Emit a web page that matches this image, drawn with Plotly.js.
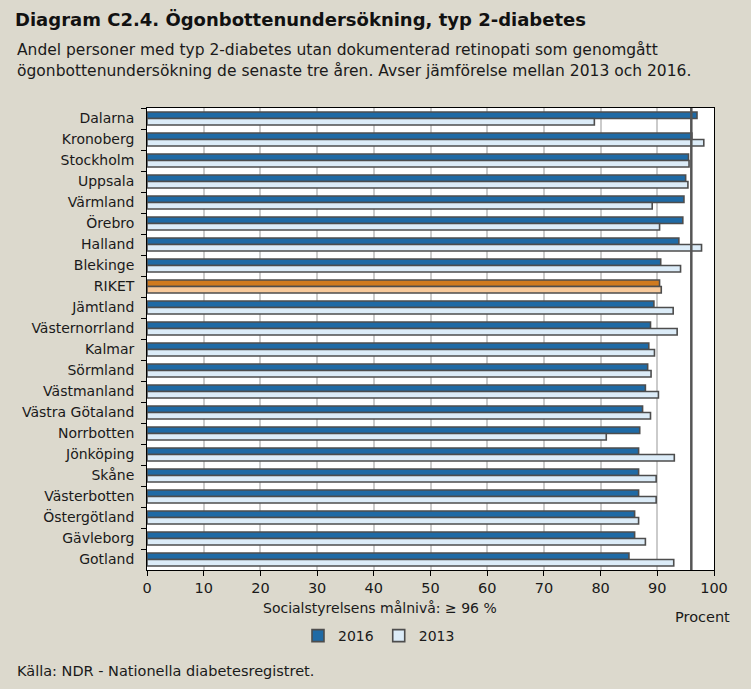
<!DOCTYPE html>
<html>
<head>
<meta charset="utf-8">
<script src="https://cdn.plot.ly/plotly-3.0.1.min.js"></script>
<style>html,body{margin:0;padding:0;background:#dcd9cd;}#chart{width:751px;height:689px;}</style>
</head>
<body>
<div id="chart"></div>
<script>
const categories = ["Dalarna","Kronoberg","Stockholm","Uppsala","Värmland","Örebro","Halland","Blekinge","RIKET","Jämtland","Västernorrland","Kalmar","Sörmland","Västmanland","Västra Götaland","Norrbotten","Jönköping","Skåne","Västerbotten","Östergötland","Gävleborg","Gotland"];
const values2016 = [97.0,96.1,95.5,95.0,94.7,94.5,93.8,90.6,90.4,89.4,88.8,88.5,88.3,87.9,87.4,86.9,86.7,86.7,86.7,86.0,86.0,85.0];
const values2013 = [78.9,98.2,95.6,95.4,89.1,90.4,97.8,94.1,90.7,92.8,93.5,89.5,88.9,90.2,88.8,81.0,93.0,89.8,89.8,86.7,87.9,92.9];
const seriesNames = ["2016","2013"];
const targetLevel = 96;
const xTicks = [0,10,20,30,40,50,60,70,80,90,100];

const W = 751, H = 689;
const L = 147, R = 714, T = 108, B = 570;
const px = x => (x - L) / (R - L);
const py = y => (B - y) / (B - T);
const FONT = "DejaVu Sans, sans-serif";
const txt = "#1a1a1a";

const c2016 = categories.map(c => c === "RIKET" ? "#d07a1e" : "#1f6aa5");
const c2013 = categories.map(c => c === "RIKET" ? "#f7c99b" : "#dcecf8");
const outline = "#4d4d4d";

const traces = [
  {type:"bar", orientation:"h", name:seriesNames[0], y:categories, x:values2016,
   marker:{color:c2016, line:{color:outline, width:1.6}}, hoverinfo:"x+y"},
  {type:"bar", orientation:"h", name:seriesNames[1], y:categories, x:values2013,
   marker:{color:c2013, line:{color:outline, width:1.6}}, hoverinfo:"x+y"}
];

const layout = {
  width: W, height: H,
  paper_bgcolor: "#dcd9cd", plot_bgcolor: "#ffffff",
  margin: {l: L, r: W - R, t: T, b: H - B, pad: 0},
  barmode: "group", bargap: 0.38, bargroupgap: 0,
  font: {family: FONT, color: txt, size: 14},
  title: {text: "<b>Diagram C2.4. Ögonbottenundersökning, typ 2-diabetes</b>",
    xref: "container", yref: "container", x: 15/W, xanchor: "left", y: 1 - 20/H, yanchor: "middle",
    font: {family: FONT, size: 18, color: "#111"}},
  xaxis: {range: [0, 100], tickvals: xTicks, ticks: "outside", ticklen: 5, tickcolor: "#000",
    showgrid: true, gridcolor: "#cbcbcb", gridwidth: 2, showline: true, linecolor: "#000", linewidth: 1,
    mirror: true, zeroline: false, tickfont: {size: 14.5, color: txt}, fixedrange: true},
  yaxis: {type: "category", autorange: "reversed", tickson: "boundaries", ticks: "outside", ticklen: 5,
    tickcolor: "#000", showline: true, linecolor: "#000", linewidth: 1, mirror: true, showgrid: false,
    tickfont: {size: 14, color: txt}, ticksuffix: "  ", fixedrange: true},
  shapes: [{type: "line", xref: "x", yref: "paper", x0: targetLevel, x1: targetLevel, y0: 0, y1: 1,
    line: {color: "#555555", width: 2.5}}],
  legend: {orientation: "h", x: px(298), y: py(636), xanchor: "left", yanchor: "middle",
    font: {size: 14, color: txt}, bgcolor: "rgba(0,0,0,0)", traceorder: "normal"},
  annotations: [
    {text: "Andel personer med typ 2-diabetes utan dokumenterad retinopati som genomgått", xref: "paper", yref: "paper",
      x: px(15), y: py(50), xanchor: "left", yanchor: "middle", showarrow: false, font: {size: 15.5, color: txt}},
    {text: "ögonbottenundersökning de senaste tre åren. Avser jämförelse mellan 2013 och 2016.", xref: "paper", yref: "paper",
      x: px(15), y: py(71), xanchor: "left", yanchor: "middle", showarrow: false, font: {size: 15.5, color: txt}},
    {text: "Socialstyrelsens målnivå: ≥ 96 %", xref: "paper", yref: "paper", x: px(380), y: py(608),
      xanchor: "center", yanchor: "middle", showarrow: false, font: {size: 14, color: txt}},
    {text: "Procent", xref: "paper", yref: "paper", x: px(702), y: py(617),
      xanchor: "center", yanchor: "middle", showarrow: false, font: {size: 14.5, color: txt}},
    {text: "Källa: NDR - Nationella diabetesregistret.", xref: "paper", yref: "paper", x: px(15), y: py(671),
      xanchor: "left", yanchor: "middle", showarrow: false, font: {size: 14.5, color: txt}}
  ]
};

Plotly.newPlot("chart", traces, layout, {displayModeBar: false, staticPlot: true});
</script>
</body>
</html>
